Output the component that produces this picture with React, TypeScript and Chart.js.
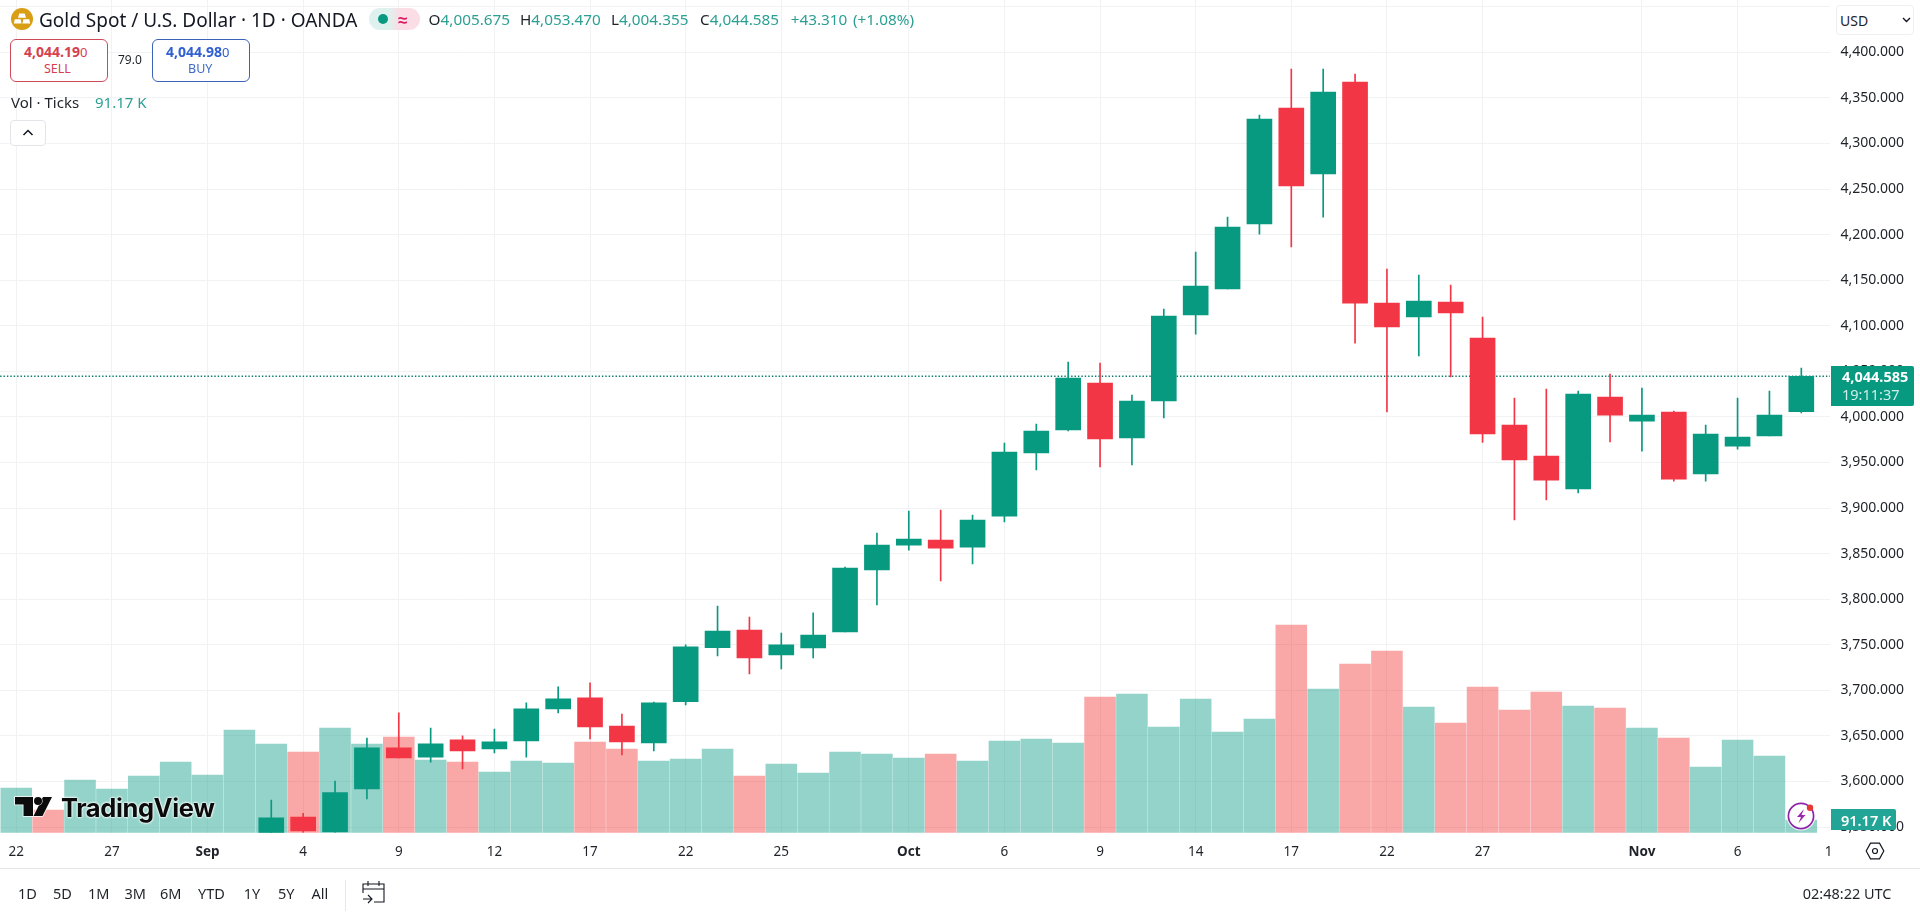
import React, { useEffect, useRef } from "react";
import { Chart, registerables } from "chart.js";

Chart.register(...registerables);

const FONT = '"Noto Sans", sans-serif';
const INK = "#1f2329";
const UP = "#089981";
const DOWN = "#f23645";
const UP_VOL = "rgba(8,153,129,0.43)";
const DOWN_VOL = "rgba(242,50,50,0.43)";
const GRID = "#f1f2f4";

// Candles start at bar 8: earlier sessions lie below the visible price range.
const firstCandle = 8;
const opens = [3535, 3561, 3544.6, 3591.8, 3636.8, 3626.8, 3645.6, 3635.7, 3644.5, 3679.6, 3691.7, 3660.9, 3642.2, 3687.5, 3746.8, 3766.2, 3738.9, 3746.4, 3764, 3832, 3859.4, 3864.9, 3857.2, 3891.2, 3960.4, 3985.6, 4037.1, 3976.9, 4017.4, 4111.8, 4140.3, 4211.6, 4338.9, 4266.5, 4367.4, 4124.9, 4109.6, 4126, 4086.6, 3991.1, 3957, 3920.9, 4021.8, 3995.4, 4005.4, 3937.3, 3968, 3979, 4005.675];
const highs = [3579.7, 3565, 3600.5, 3647.7, 3675.2, 3658.7, 3650, 3657.6, 3686.2, 3703.8, 3708.2, 3674, 3687, 3750, 3792.5, 3780.5, 3762.9, 3784.9, 3835.3, 3872.6, 3896.7, 3897.8, 3892.3, 3971.4, 3992.2, 4060.2, 4059.1, 4024, 4118.2, 4180.9, 4219.2, 4331.2, 4381.7, 4381.7, 4376.2, 4162.3, 4155.7, 4144.7, 4109.6, 4020.7, 4030.6, 4028.4, 4047.1, 4031.7, 4006.5, 3991.1, 4020.7, 4028.4, 4053.47];
const lows = [3530, 3544, 3544, 3580.8, 3625.8, 3621.3, 3613.8, 3631.3, 3626.8, 3675.2, 3646.6, 3629, 3633.5, 3684, 3737.7, 3717.9, 3723.4, 3735.5, 3764, 3793.6, 3853.9, 3820, 3838.6, 3884.7, 3941.7, 3984.5, 3945, 3947.2, 3998.8, 4090.9, 4140.3, 4200.6, 4186.4, 4219.2, 4081, 4005.4, 4066.8, 4043.8, 3972, 3886.9, 3908.8, 3916.5, 3972.5, 3962.5, 3929.6, 3929.6, 3964.7, 3979, 4004.355];
const closes = [3560, 3545.7, 3587.7, 3636.8, 3625.8, 3641.2, 3633.5, 3643.4, 3679.6, 3690.6, 3659.8, 3643.4, 3686.2, 3747.6, 3765, 3735.5, 3749.9, 3760.7, 3834.2, 3859.4, 3866, 3856.1, 3886.8, 3961.5, 3984.5, 4042.6, 3975.8, 4017.4, 4110.5, 4143.6, 4208.3, 4326.8, 4253.3, 4356.4, 4124.9, 4098.6, 4127.1, 4114, 3981.2, 3952.7, 3930.7, 4025.1, 4002, 4002, 3931.8, 3981.2, 3977.9, 4002, 4044.585];

// Volume in thousands of ticks (the pane's scale has a raised base).
const volumes = [123, 101, 131, 122, 135, 149, 136, 181, 167, 159, 183, 167, 174, 151, 149, 139, 150, 148, 169, 162, 150, 152, 162, 135, 147, 138, 159, 157, 153, 157, 150, 170, 172, 168, 214, 217, 184, 212, 179, 192, 286, 222, 247, 260, 204, 188, 224, 201, 219, 205, 203, 183, 173, 144, 171, 155, 91.17];
const volumeDown = [1, 9, 12, 14, 18, 19, 23, 29, 34, 40, 42, 43, 45, 46, 47, 48, 50, 52];
const volumeBase = 78.47;
const volumeSpan = 832.7;

const tickIndex = [0, 3, 6, 9, 12, 15, 18, 21, 24, 28, 31, 34, 37, 40, 43, 46, 51, 54, 56.86];
const tickLabels = ["22", "27", "Sep", "4", "9", "12", "17", "22", "25", "Oct", "6", "9", "14", "17", "22", "27", "Nov", "6", "1"];
const monthLabels = ["Sep", "Oct", "Nov"];
const priceTicks = [3550, 3600, 3650, 3700, 3750, 3800, 3850, 3900, 3950, 4000, 4050, 4100, 4150, 4200, 4250, 4300, 4350, 4400, 4450];
const lastPrice = 4044.585;
const ranges = ["1D", "5D", "1M", "3M", "6M", "YTD", "1Y", "5Y", "All"];
const rangeX = [18, 53, 88, 124.5, 160, 198, 243.7, 278, 311.4];

const fmtPrice = (v: number) =>
  v.toLocaleString("en-US", { minimumFractionDigits: 3, maximumFractionDigits: 3 });

function T({ x, y, children, style }: { x: number; y: number; children: React.ReactNode; style?: React.CSSProperties }) {
  return (
    <div
      style={{
        position: "absolute",
        left: x,
        top: y,
        transform: "translateY(-50%)",
        whiteSpace: "nowrap",
        fontFamily: FONT,
        lineHeight: 1,
        color: INK,
        ...style,
      }}
    >
      {children}
    </div>
  );
}

function Box({ x, y, w, h, style, children }: { x: number; y: number; w: number; h: number; style?: React.CSSProperties; children?: React.ReactNode }) {
  return (
    <div style={{ position: "absolute", left: x, top: y, width: w, height: h, boxSizing: "border-box", ...style }}>
      {children}
    </div>
  );
}

function Overlay() {
  const teal = "#2b9f92";
  return (
    <>
      {/* Header */}
      <svg style={{ position: "absolute", left: 11, top: 8 }} width={22} height={22} viewBox="0 0 22 22">
        <circle cx={11} cy={11} r={11} fill="#d99e14" />
        <path d="M8.3 5.5h5.4l1.3 4.3H7z M3.8 11.2h5.8l1 4.3H2.8z M12.4 11.2h5.8l1 4.3h-7.8z" fill="#fff" />
      </svg>
      <T x={39} y={20} style={{ fontSize: 19, color: "#131722" }}>Gold Spot / U.S. Dollar · 1D · OANDA</T>
      <div style={{ position: "absolute", left: 369, top: 8, width: 51, height: 22, borderRadius: 11, background: "linear-gradient(90deg,#dff1ee 0%,#dff1ee 40%,#fbdde6 60%,#fbdde6 100%)" }} />
      <div style={{ position: "absolute", left: 378, top: 14, width: 10, height: 10, borderRadius: 5, background: UP }} />
      <T x={398} y={19} style={{ fontSize: 17, color: "#d81b60", fontWeight: 700 }}>≈</T>
      <T x={428.6} y={20} style={{ fontSize: 15.3 }}>O<span style={{ color: teal }}>4,005.675</span></T>
      <T x={520} y={20} style={{ fontSize: 15.3 }}>H<span style={{ color: teal }}>4,053.470</span></T>
      <T x={611} y={20} style={{ fontSize: 15.3 }}>L<span style={{ color: teal }}>4,004.355</span></T>
      <T x={700} y={20} style={{ fontSize: 15.3 }}>C<span style={{ color: teal }}>4,044.585</span></T>
      <T x={790.7} y={20} style={{ fontSize: 15.3, color: teal }}>+43.310</T>
      <T x={853} y={20} style={{ fontSize: 15.3, color: teal }}>(+1.08%)</T>

      {/* Trade boxes */}
      <Box x={10} y={39} w={98} h={43} style={{ border: "1px solid #cf4a59", borderRadius: 6, background: "#fff" }} />
      <T x={24} y={52} style={{ fontSize: 14, fontWeight: 700, color: "#d6404f" }}>4,044.19<span style={{ fontWeight: 400, fontSize: 13 }}>0</span></T>
      <T x={44} y={69} style={{ fontSize: 12.5, color: "#d6404f" }}>SELL</T>
      <T x={118} y={60} style={{ fontSize: 12 }}>79.0</T>
      <Box x={152} y={39} w={98} h={43} style={{ border: "1px solid #3b64b8", borderRadius: 6, background: "#fff" }} />
      <T x={166} y={52} style={{ fontSize: 14, fontWeight: 700, color: "#2f5fd0" }}>4,044.98<span style={{ fontWeight: 400, fontSize: 13 }}>0</span></T>
      <T x={188} y={69} style={{ fontSize: 12.5, color: "#3f6bc4" }}>BUY</T>
      <T x={11} y={102} style={{ fontSize: 15 }}>Vol · Ticks</T>
      <T x={95} y={102} style={{ fontSize: 15, color: teal }}>91.17 K</T>
      <Box x={10} y={120} w={36} h={26} style={{ border: "1px solid #e3e4e8", borderRadius: 4, background: "#fff" }} />
      <svg style={{ position: "absolute", left: 22, top: 128 }} width={12} height={9} viewBox="0 0 12 9">
        <path d="M1.5 7 L6 2.5 L10.5 7" fill="none" stroke="#131722" strokeWidth={1.5} />
      </svg>

      {/* USD */}
      <Box x={1836} y={5} w={78} h={30} style={{ border: "1px solid #eeeff2", borderRadius: 4, background: "#fff" }} />
      <T x={1840} y={20.5} style={{ fontSize: 14 }}>USD</T>
      <svg style={{ position: "absolute", left: 1902, top: 17 }} width={9} height={6} viewBox="0 0 9 6">
        <path d="M1 1 L4.5 4.5 L8 1" fill="none" stroke="#131722" strokeWidth={1.4} />
      </svg>

      {/* Price tags */}
      <Box x={1831} y={366} w={83} h={39.5} style={{ background: UP, borderRadius: "0 2px 2px 0" }} />
      <T x={1842} y={376} style={{ fontSize: 14.5, fontWeight: 700, color: "#fff" }}>4,044.585</T>
      <T x={1842} y={394} style={{ fontSize: 14.5, color: "#cfeee9" }}>19:11:37</T>
      <Box x={1831} y={809} w={65} h={21} style={{ background: "#22a596", borderRadius: "0 2px 2px 0" }} />
      <T x={1841} y={820} style={{ fontSize: 14.5, fontWeight: 600, color: "#fff" }}>91.17 K</T>

      {/* Lightning badge */}
      <svg style={{ position: "absolute", left: 1785, top: 800 }} width={34} height={32} viewBox="0 0 34 32">
        <circle cx={16} cy={16} r={14.5} fill="#fff" opacity={0.85} />
        <circle cx={16} cy={16} r={12.6} fill="#fff" stroke="#8e24aa" strokeWidth={1.7} />
        <path d="M19 9 L12 17 H16 L13.5 23 L20.5 15 H16.5 Z" fill="#9c27b0" />
        <circle cx={25} cy={7.7} r={3.2} fill="#e53935" />
      </svg>

      {/* Logo */}
      <svg style={{ position: "absolute", left: 12, top: 794 }} width={44} height={26} viewBox="0 0 44 26">
        <path d="M3 3 H21 V22 H11.5 V10.5 H3 Z M31 3 H40 L30.5 22 H21.5 Z" fill="#0b0b0b" stroke="#fff" strokeWidth={1.6} paintOrder="stroke" />
        <circle cx={26} cy={7} r={4} fill="#0b0b0b" stroke="#fff" strokeWidth={1.2} paintOrder="stroke" />
      </svg>
      <T x={61} y={808} style={{ fontFamily: '"Inter", sans-serif', fontSize: 25.5, fontWeight: 700, color: "#0b0b0b", letterSpacing: -0.4, textShadow: "0 0 2px #fff,0 0 2px #fff,0 0 3px #fff" }}>TradingView</T>

      {/* Settings hexagon */}
      <svg style={{ position: "absolute", left: 1865, top: 842 }} width={20} height={18} viewBox="0 0 20 18">
        <path d="M5.5 1.2 H14.5 L18.8 9 L14.5 16.8 H5.5 L1.2 9 Z" fill="none" stroke="#131722" strokeWidth={1.2} />
        <circle cx={10} cy={9} r={2.5} fill="none" stroke="#131722" strokeWidth={1.2} />
      </svg>

      {/* Footer */}
      <Box x={0} y={868} w={1920} h={1} style={{ background: "#e6e7ea" }} />
      {ranges.map((r, i) => (
        <T key={r} x={rangeX[i]} y={893} style={{ fontSize: 14.5 }}>{r}</T>
      ))}
      <Box x={345} y={880} w={1} h={31} style={{ background: "#e6e7ea" }} />
      <svg style={{ position: "absolute", left: 361, top: 879 }} width={26} height={26} viewBox="0 0 26 26">
        <path d="M2 14 V5 H23 V23 H13 M2 10 H23 M7 2 V7 M18 2 V7 M2 20 H11 M7 16 L11 20 L7 24" fill="none" stroke="#131722" strokeWidth={1.1} />
      </svg>
      <T x={1802.7} y={893} style={{ fontSize: 14.5 }}>02:48:22 UTC</T>
    </>
  );
}

export default function App() {
  const ref = useRef<HTMLCanvasElement>(null);
  useEffect(() => {
    const idx = opens.map((_, i) => i + firstCandle);
    const candleColors = opens.map((o, i) => (closes[i] >= o ? UP : DOWN));
    const chart = new Chart(ref.current!, {
      type: "bar",
      data: {
        datasets: [
          {
            label: "Body",
            data: idx.map((x, i) => ({ x, y: [opens[i], closes[i]] })),
            backgroundColor: candleColors,
            barThickness: 25,
            grouped: false,
            order: 1,
            yAxisID: "y",
            xAxisID: "x",
          } as any,
          {
            label: "Wick",
            data: idx.map((x, i) => ({ x, y: [lows[i], highs[i]] })),
            backgroundColor: candleColors,
            barThickness: 1,
            grouped: false,
            order: 2,
            yAxisID: "y",
            xAxisID: "x",
          } as any,
          {
            type: "line",
            label: "Last",
            data: [
              { x: -2, y: lastPrice },
              { x: 60, y: lastPrice },
            ],
            borderColor: "#057a67",
            borderWidth: 1.4,
            borderDash: [1.4, 2],
            pointRadius: 0,
            order: 3,
            yAxisID: "y",
            xAxisID: "x",
          } as any,
          {
            label: "Vol",
            data: volumes.map((v, x) => ({ x, y: v })),
            backgroundColor: volumes.map((_, i) => (volumeDown.includes(i) ? DOWN_VOL : UP_VOL)),
            barThickness: 30.9,
            grouped: false,
            order: 4,
            yAxisID: "vol",
            xAxisID: "x",
          } as any,
        ],
      },
      options: {
        responsive: false,
        animation: false,
        events: [],
        layout: { padding: 0 },
        plugins: { legend: { display: false }, tooltip: { enabled: false }, title: { display: false } },
        scales: {
          x: {
            type: "linear",
            offset: false,
            min: -0.511,
            max: 56.9,
            afterBuildTicks: (axis: any) => {
              axis.ticks = tickIndex.map((value) => ({ value }));
            },
            afterFit: (axis: any) => {
              axis.height = 83.3;
              axis.paddingLeft = 0;
              axis.paddingRight = 0;
            },
            border: { display: false },
            grid: {
              offset: false,
              drawTicks: false,
              color: (c: any) => (c.tick && c.tick.value > 56.5 ? "rgba(0,0,0,0)" : GRID),
            },
            ticks: {
              autoSkip: false,
              maxRotation: 0,
              minRotation: 0,
              padding: 11,
              color: INK,
              font: (c: any) => ({
                family: FONT,
                size: 13.5,
                weight: monthLabels.includes(tickLabels[tickIndex.indexOf(c.tick?.value)]) ? "bold" : "normal",
              }),
              callback: (v: any) => tickLabels[tickIndex.indexOf(v)],
            },
          } as any,
          y: {
            type: "linear",
            position: "right",
            min: 3543.8,
            max: 4457.4,
            afterBuildTicks: (axis: any) => {
              axis.ticks = priceTicks.map((value) => ({ value }));
            },
            afterFit: (axis: any) => {
              axis.width = 90;
              axis.paddingTop = 0;
              axis.paddingBottom = 0;
            },
            border: { display: false },
            grid: { drawTicks: false, color: GRID },
            ticks: {
              padding: 10.5,
              color: INK,
              font: { family: FONT, size: 14 },
              callback: (v: any) => (v === 4450 ? "" : fmtPrice(v)),
            },
          } as any,
          vol: {
            type: "linear",
            display: false,
            position: "right",
            min: volumeBase,
            max: volumeBase + volumeSpan,
            grid: { display: false },
          } as any,
        },
      },
    });
    return () => chart.destroy();
  }, []);
  return (
    <div style={{ position: "absolute", left: 0, top: 0, width: 1920, height: 916, overflow: "hidden", background: "#fff" }}>
      <canvas ref={ref} width={1920} height={916} style={{ display: "block", position: "absolute", left: 0, top: 0 }} />
      <Overlay />
    </div>
  );
}
